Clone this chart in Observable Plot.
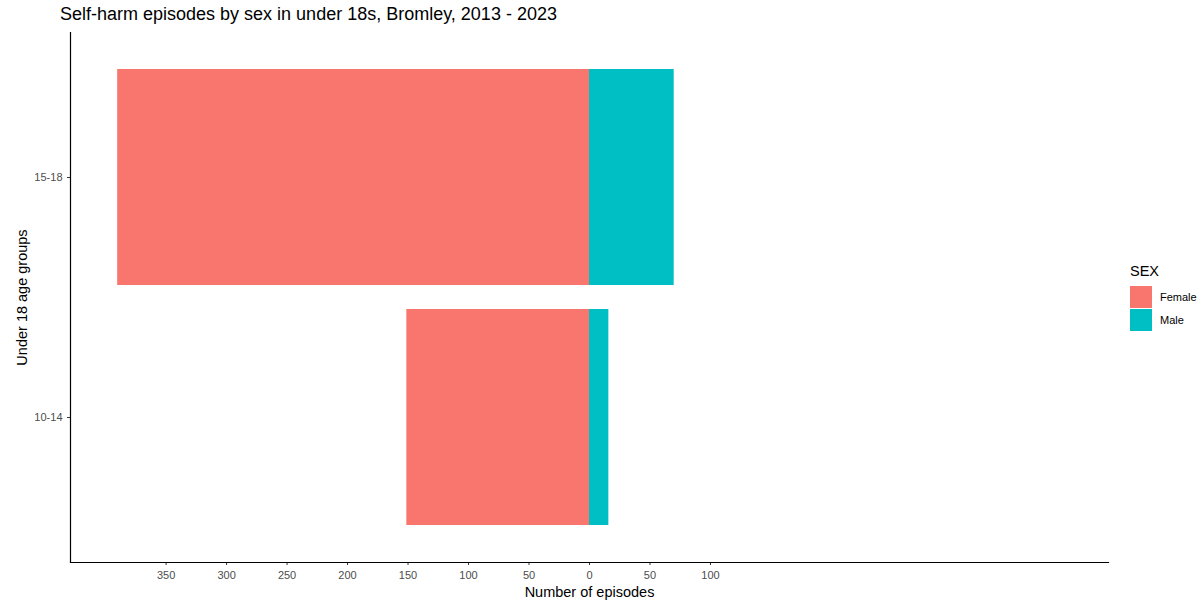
<!DOCTYPE html>
<html>
<head>
<meta charset="utf-8">
<script src="https://cdn.jsdelivr.net/npm/d3@7"></script>
<script src="https://cdn.jsdelivr.net/npm/@observablehq/plot@0.6"></script>
<style>
  html, body { margin: 0; padding: 0; background: #fff; }
  #wrap { position: relative; width: 1204px; height: 602px; font-family: "Liberation Sans", Arial, sans-serif; }
  #title { position: absolute; left: 60px; top: 4px; font-size: 18px; color: #000; white-space: nowrap; }
  #legend { position: absolute; left: 1130px; top: 263px; font-size: 11px; color: #000; }
  #legend .lt { font-size: 14.5px; margin-bottom: 6px; }
  #legend .row { display: flex; align-items: center; height: 23px; }
  #legend .sw { width: 22px; height: 22px; margin-right: 8px; }
</style>
</head>
<body>
<div id="wrap">
  <div id="title">Self-harm episodes by sex in under 18s, Bromley, 2013 - 2023</div>
  <div id="chart"></div>
  <div id="legend"></div>
</div>
<script>
const ageGroups = ["15-18", "10-14"];
const femaleEpisodes = [390, 151];
const maleEpisodes = [70, 16];
const sexes = ["Female", "Male"];
const sexColors = ["#F8766D", "#00BFC4"];
const xTicks = [-350, -300, -250, -200, -150, -100, -50, 0, 50, 100];
const xDomain = [-429, 429];

const rows = [];
ageGroups.forEach((g, i) => {
  rows.push({age: g, sex: "Female", value: -femaleEpisodes[i]});
  rows.push({age: g, sex: "Male", value: maleEpisodes[i]});
});

const chart = Plot.plot({
  width: 1204,
  height: 602,
  marginLeft: 70,
  marginRight: 96,
  marginTop: 32,
  marginBottom: 40,
  style: {fontFamily: "Liberation Sans, Arial, sans-serif", background: "#fff"},
  x: {domain: xDomain},
  y: {domain: ageGroups, paddingInner: 0.1, paddingOuter: 0.152},
  color: {domain: sexes, range: sexColors},
  marks: [
    Plot.barX(rows, {y: "age", x1: 0, x2: "value", fill: "sex"}),
    Plot.axisX({
      ticks: xTicks, tickFormat: d => Math.abs(d), tickSize: 3, tickPadding: 6,
      fontSize: 11, color: "#4d4d4d", stroke: "#333",
      label: null
    }),
    Plot.axisY({
      tickSize: 3, tickPadding: 5, fontSize: 11, color: "#4d4d4d", stroke: "#333",
      label: null
    }),
    Plot.frame({anchor: "bottom", stroke: "#000", strokeWidth: 1.2}),
    Plot.frame({anchor: "left", stroke: "#000", strokeWidth: 1.2}),
    Plot.text(["Number of episodes"], {frameAnchor: "bottom", x: 0, dy: 34, fontSize: 14.5, fill: "#000"}),
    Plot.text(["Under 18 age groups"], {frameAnchor: "left", textAnchor: "middle", dx: -48, rotate: -90, fontSize: 14.5, fill: "#000"})
  ]
});
document.getElementById("chart").appendChild(chart);

const legend = document.getElementById("legend");
legend.innerHTML = '<div class="lt">SEX</div>' + sexes.map((s, i) =>
  `<div class="row"><div class="sw" style="background:${sexColors[i]}"></div><span>${s}</span></div>`).join("");
</script>
</body>
</html>
